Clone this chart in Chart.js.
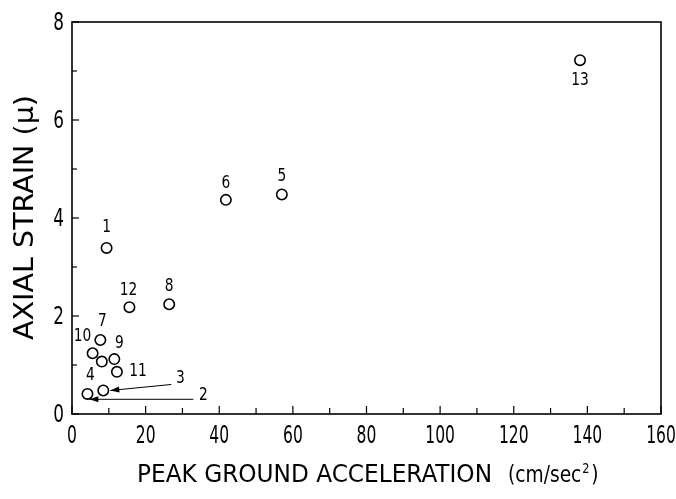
<!DOCTYPE html>
<html>
<head>
<meta charset="utf-8">
<script src="https://cdn.jsdelivr.net/npm/chart.js@4/dist/chart.umd.min.js"></script>
<style>
  html, body { margin: 0; padding: 0; background: #fff; }
  #wrap { width: 676px; height: 499px; }
</style>
</head>
<body>
<div id="wrap"><canvas id="c" width="676" height="499"></canvas></div>
<script>
// ---- data ----
const pointIds = ['1', '2', '3', '4', '5', '6', '7', '8', '9', '10', '11', '12', '13', ''];
const pga      = [9.4, 4.7, 8.5, 4.2, 57.0, 41.8, 7.7, 26.4, 11.5, 5.6, 12.2, 15.6, 138.0, 8.1];   // cm/sec^2
const strain   = [3.39, 0.30, 0.48, 0.41, 4.48, 4.37, 1.51, 2.24, 1.12, 1.24, 0.86, 2.18, 7.22, 1.07]; // micro strain
const xTicks = [0, 20, 40, 60, 80, 100, 120, 140, 160];
const yTicks = [0, 2, 4, 6, 8];
const xTitle = 'PEAK GROUND ACCELERATION';
const xUnit = ['(cm/sec', '2', ')'];
const yTitle = 'AXIAL STRAIN (\u03bc)';

// ---- layout / style (pixels) ----
const FONT = "'DejaVu Sans Condensed', 'DejaVu Sans', sans-serif";
const labelOffsets = {
  '1': [0, -21], '2': [114, -4], '3': [77, -12], '4': [3, -19], '5': [0, -18], '6': [0, -17],
  '7': [2, -19], '8': [0, -18], '9': [5, -16], '10': [-10, -17], '11': [21, -1], '12': [-1, -17], '13': [0, 20]
};
const arrows = {
  '3': { tail: [68, -6], head: [7, 0] },
  '2': { tail: [104, 0], head: [0, 0] }
};
const hiddenMarkers = ['2'];

const points = pga.map((x, i) => ({ x: x, y: strain[i] }));

// draw text with a given cap height and stretched/compressed to a given length
function fitText(ctx, text, x, y, capH, len, rot) {
  const size = capH / 0.73;
  ctx.save();
  ctx.font = size + 'px ' + FONT;
  const w = ctx.measureText(text).width;
  ctx.translate(x, y);
  if (rot) ctx.rotate(rot);
  ctx.scale(len / w, 1);
  ctx.textAlign = 'left';
  ctx.textBaseline = 'alphabetic';
  ctx.fillText(text, 0, 0);
  ctx.restore();
}

function squeezed(ctx, text, x, y, size, sx, align, baseline) {
  ctx.save();
  ctx.font = size + 'px ' + FONT;
  ctx.translate(x, y);
  ctx.scale(sx, 1);
  ctx.textAlign = align;
  ctx.textBaseline = baseline;
  ctx.fillText(text, 0, 0);
  ctx.restore();
}

const decor = {
  id: 'decor',
  afterDraw(chart) {
    const ctx = chart.ctx;
    const a = chart.chartArea;
    const xs = chart.scales.x, ys = chart.scales.y;
    ctx.save();
    // frame
    ctx.strokeStyle = '#000';
    ctx.lineWidth = 1.6;
    ctx.strokeRect(a.left, a.top, a.right - a.left, a.bottom - a.top);
    // inward ticks
    ctx.lineWidth = 1.2;
    for (let v = xs.min; v <= xs.max; v += 10) {
      const px = xs.getPixelForValue(v);
      const len = (v % 20 === 0) ? 8 : 6;
      ctx.beginPath(); ctx.moveTo(px, a.bottom); ctx.lineTo(px, a.bottom - len); ctx.stroke();
    }
    for (let v = ys.min; v <= ys.max; v += 1) {
      const py = ys.getPixelForValue(v);
      const len = (v % 2 === 0) ? 7 : 5;
      ctx.beginPath(); ctx.moveTo(a.left, py); ctx.lineTo(a.left + len, py); ctx.stroke();
    }
    // tick labels (from the scales' own ticks)
    ctx.fillStyle = '#000';
    xs.ticks.forEach(t => {
      squeezed(ctx, String(t.value), xs.getPixelForValue(t.value), a.bottom + 23, 24, 0.72, 'center', 'middle');
    });
    ys.ticks.forEach(t => {
      squeezed(ctx, String(t.value), a.left - 8, ys.getPixelForValue(t.value) + 2, 24, 0.78, 'right', 'middle');
    });
    // point labels
    pointIds.forEach((id, i) => {
      if (!id) return;
      const px = xs.getPixelForValue(pga[i]);
      const py = ys.getPixelForValue(strain[i]);
      const off = labelOffsets[id] || [0, -18];
      squeezed(ctx, id, px + off[0], py + off[1], 18, 0.85, 'center', 'middle');
      const ar = arrows[id];
      if (ar) {
        const tx = px + ar.tail[0], ty = py + ar.tail[1];
        const hx = px + ar.head[0], hy = py + ar.head[1];
        ctx.lineWidth = 1;
        ctx.beginPath(); ctx.moveTo(tx, ty); ctx.lineTo(hx, hy); ctx.stroke();
        const ang = Math.atan2(hy - ty, hx - tx);
        const L = 9, W = 3;
        ctx.beginPath();
        ctx.moveTo(hx, hy);
        ctx.lineTo(hx - L * Math.cos(ang) + W * Math.sin(ang), hy - L * Math.sin(ang) - W * Math.cos(ang));
        ctx.lineTo(hx - L * Math.cos(ang) - W * Math.sin(ang), hy - L * Math.sin(ang) + W * Math.cos(ang));
        ctx.closePath(); ctx.fill();
      }
    });
    // x title
    fitText(ctx, xTitle, 137, 482, 18, 355, 0);
    // units (cm/sec^2)
    ctx.save();
    ctx.translate(508, 482);
    ctx.scale(0.9, 1);
    ctx.textAlign = 'left';
    ctx.textBaseline = 'alphabetic';
    ctx.font = '23px ' + FONT;
    let ux = 0;
    ctx.fillText(xUnit[0], ux, 0);
    ux += ctx.measureText(xUnit[0]).width + 1;
    ctx.font = '14px ' + FONT;
    ctx.fillText(xUnit[1], ux, -9);
    ux += ctx.measureText(xUnit[1]).width + 2;
    ctx.font = '23px ' + FONT;
    ctx.fillText(xUnit[2], ux, 0);
    ctx.restore();
    // y title
    fitText(ctx, yTitle, 33, 340, 20, 245, -Math.PI / 2);
    ctx.restore();
  }
};

new Chart(document.getElementById('c'), {
  type: 'scatter',
  data: {
    datasets: [{
      data: points,
      pointStyle: 'circle',
      pointRadius: pointIds.map(id => hiddenMarkers.includes(id) ? 0 : 5.2),
      pointBorderWidth: 1.6,
      pointBorderColor: '#000',
      pointBackgroundColor: 'rgba(255,255,255,0)',
      showLine: false
    }]
  },
  options: {
    responsive: false,
    animation: false,
    events: [],
    layout: { padding: { left: 0, top: 22, right: 15, bottom: 0 } },
    plugins: { legend: { display: false }, tooltip: { enabled: false } },
    scales: {
      x: {
        type: 'linear', min: 0, max: 160,
        afterBuildTicks: s => { s.ticks = xTicks.map(v => ({ value: v })); },
        afterFit: s => { s.height = 85; s.paddingLeft = 0; s.paddingRight = 0; },
        grid: { display: false, drawTicks: false },
        border: { display: false },
        ticks: { display: false }
      },
      y: {
        type: 'linear', min: 0, max: 8,
        afterBuildTicks: s => { s.ticks = yTicks.map(v => ({ value: v })); },
        afterFit: s => { s.width = 72; s.paddingTop = 0; s.paddingBottom = 0; },
        grid: { display: false, drawTicks: false },
        border: { display: false },
        ticks: { display: false }
      }
    }
  },
  plugins: [decor]
});
</script>
</body>
</html>
